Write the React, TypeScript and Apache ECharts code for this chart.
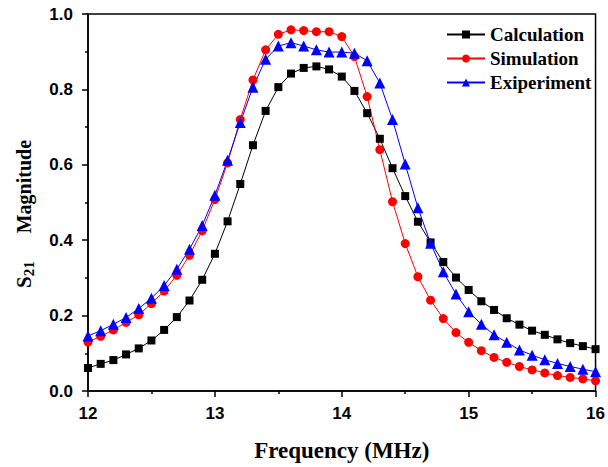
import React, { useEffect, useRef } from "react";
import * as echarts from "echarts";

const freq = [
  12.0, 12.1, 12.2, 12.3, 12.4, 12.5, 12.6, 12.7, 12.8, 12.9,
  13.0, 13.1, 13.2, 13.3, 13.4, 13.5, 13.6, 13.7, 13.8, 13.9,
  14.0, 14.1, 14.2, 14.3, 14.4, 14.5, 14.6, 14.7, 14.8, 14.9,
  15.0, 15.1, 15.2, 15.3, 15.4, 15.5, 15.6, 15.7, 15.8, 15.9, 16.0,
];

const calculation = [
  0.061, 0.072, 0.082, 0.097, 0.113, 0.134, 0.162, 0.196, 0.24, 0.295,
  0.364, 0.45, 0.549, 0.652, 0.743, 0.806, 0.842, 0.857, 0.861, 0.853,
  0.834, 0.796, 0.737, 0.669, 0.591, 0.517, 0.449, 0.394, 0.342, 0.301,
  0.268, 0.238, 0.215, 0.193, 0.176, 0.16, 0.149, 0.137, 0.127, 0.119, 0.111,
];

const simulation = [
  0.13, 0.145, 0.162, 0.182, 0.202, 0.232, 0.265, 0.307, 0.36, 0.425,
  0.508, 0.605, 0.72, 0.825, 0.905, 0.946, 0.958, 0.956, 0.953, 0.953,
  0.94, 0.887, 0.781, 0.64, 0.502, 0.391, 0.303, 0.241, 0.192, 0.155,
  0.129, 0.107, 0.089, 0.076, 0.065, 0.056, 0.048, 0.041, 0.036, 0.032, 0.027,
];

const experiment = [
  0.146, 0.16, 0.177, 0.195, 0.219, 0.246, 0.28, 0.323, 0.376, 0.439,
  0.519, 0.612, 0.712, 0.806, 0.88, 0.915, 0.924, 0.915, 0.905, 0.899,
  0.899, 0.896, 0.876, 0.817, 0.72, 0.602, 0.486, 0.392, 0.316, 0.257,
  0.21, 0.177, 0.149, 0.129, 0.109, 0.095, 0.083, 0.073, 0.065, 0.058, 0.051,
];

const seriesNames = ["Calculation", "Simulation", "Exiperiment"];

const pairs = (ys: number[]) => freq.map((x, i) => [x, ys[i]]);

export default function App() {
  const ref = useRef<HTMLDivElement>(null);
  useEffect(() => {
    if (!ref.current) return;
    const chart = echarts.init(ref.current, null, { renderer: "svg" });
    const serif = "Liberation Serif";
    const sans = "Liberation Sans";
    chart.setOption({
      animation: false,
      backgroundColor: "#fff",
      grid: {
        left: 88,
        right: 12,
        top: 14,
        bottom: 75,
        show: true,
        borderColor: "#000",
        borderWidth: 1.5,
      },
      legend: {
        orient: "vertical",
        left: 446,
        top: 25,
        padding: 0,
        itemWidth: 38,
        itemHeight: 10,
        itemGap: 5,
        data: seriesNames,
        textStyle: {
          fontFamily: serif,
          fontWeight: "bold",
          fontSize: 19,
          lineHeight: 19,
          color: "#000",
        },
      },
      xAxis: {
        type: "value",
        min: 12,
        max: 16,
        interval: 1,
        name: "Frequency (MHz)",
        nameLocation: "middle",
        nameGap: 48,
        nameTextStyle: {
          fontFamily: serif,
          fontWeight: "bold",
          fontSize: 23,
          color: "#000",
        },
        axisLine: { lineStyle: { color: "#000", width: 1.5 } },
        axisTick: { inside: false, length: 6, lineStyle: { color: "#000", width: 1.5 } },
        minorTick: { show: true, splitNumber: 2, length: 3, lineStyle: { color: "#000", width: 1.5 } },
        splitLine: { show: false },
        axisLabel: {
          margin: 14,
          fontFamily: sans,
          fontWeight: "bold",
          fontSize: 17,
          color: "#000",
        },
      },
      yAxis: {
        type: "value",
        min: 0,
        max: 1,
        interval: 0.2,
        axisLine: { show: true, lineStyle: { color: "#000", width: 1.5 } },
        axisTick: { show: true, inside: false, length: 6, lineStyle: { color: "#000", width: 1.5 } },
        minorTick: { show: true, splitNumber: 2, length: 3, lineStyle: { color: "#000", width: 1.5 } },
        splitLine: { show: false },
        axisLabel: {
          margin: 15,
          fontFamily: sans,
          fontWeight: "bold",
          fontSize: 17,
          color: "#000",
          formatter: (v: number) => v.toFixed(1),
        },
      },
      graphic: [
        {
          type: "text",
          x: 24,
          y: 214,
          rotation: Math.PI / 2,
          style: {
            text: "{s|S}{sub|21}{m|Magnitude}",
            align: "center",
            verticalAlign: "middle",
            fill: "#000",
            rich: {
              s: { fontFamily: serif, fontWeight: "bold", fontSize: 21, fill: "#000" },
              sub: {
                fontFamily: serif,
                fontWeight: "bold",
                fontSize: 15,
                fill: "#000",
                padding: [10, 0, 0, 0],
              },
              m: {
                fontFamily: serif,
                fontWeight: "bold",
                fontSize: 20,
                fill: "#000",
                padding: [0, 0, 0, 28],
              },
            },
          },
        },
      ],
      series: [
        {
          name: seriesNames[0],
          type: "line",
          data: pairs(calculation),
          symbol: "rect",
          symbolSize: 8,
          color: "#000000",
          lineStyle: { width: 1, color: "#000000" },
          itemStyle: { color: "#000000" },
        },
        {
          name: seriesNames[1],
          type: "line",
          data: pairs(simulation),
          symbol: "circle",
          symbolSize: 9,
          color: "#ff0000",
          lineStyle: { width: 1, color: "#ff0000" },
          itemStyle: { color: "#ff0000" },
        },
        {
          name: seriesNames[2],
          type: "line",
          data: pairs(experiment),
          symbol: "triangle",
          symbolSize: 11,
          color: "#0000ff",
          lineStyle: { width: 1, color: "#0000ff" },
          itemStyle: { color: "#0000ff" },
        },
      ],
    });
    return () => chart.dispose();
  }, []);
  return <div ref={ref} style={{ width: 608, height: 467, position: "absolute", left: 0, top: 0 }} />;
}
